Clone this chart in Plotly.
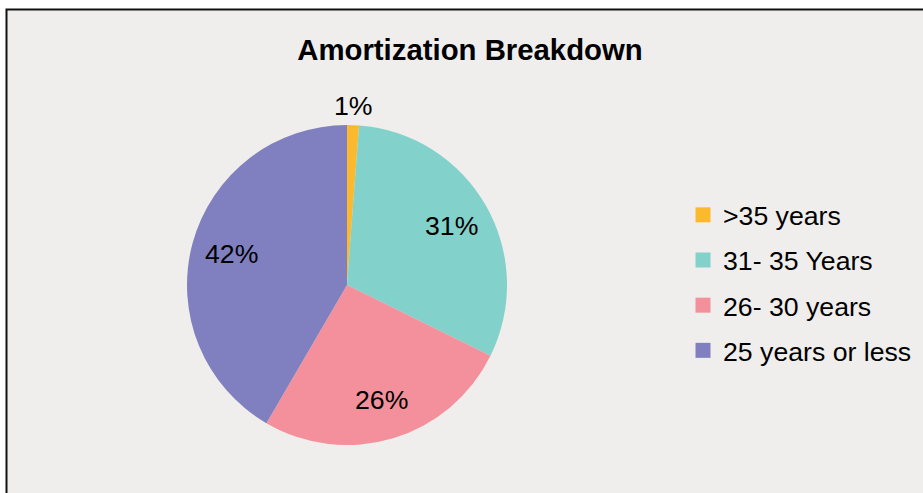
import math
import plotly.graph_objects as go

categories = [">35 years", "31- 35 Years", "26- 30 years", "25 years or less"]
values = [1.2, 31.1, 26.1, 41.6]
colors = ["#FBBA2E", "#82D1CA", "#F4909B", "#8080C0"]
label_outside = [True, False, False, False]

W, H = 923, 493
FONT = "Arial, Liberation Sans, sans-serif"

# pie geometry (pixels)
CX, CY, R = 347, 285, 160

fig = go.Figure()

fig.add_trace(go.Pie(
    labels=categories,
    values=values,
    sort=False,
    direction="clockwise",
    rotation=0,
    marker=dict(colors=colors, line=dict(width=0)),
    textinfo="none",
    showlegend=False,
    hoverinfo="label+percent",
    domain=dict(x=[(CX - R) / W, (CX + R) / W], y=[(H - CY - R) / H, (H - CY + R) / H]),
))

# percentage labels placed along each slice's mid-angle
total = sum(values)
cum = 0.0
annotations = []
for v, outside in zip(values, label_outside):
    mid = (cum + v / 2) / total * 2 * math.pi
    cum += v
    r = R * (1.12 if outside else 0.75)
    px = CX + r * math.sin(mid)
    py = CY - r * math.cos(mid)
    annotations.append(dict(
        x=px / W, y=1 - py / H, xref="paper", yref="paper",
        text=f"{round(v / total * 100)}%", showarrow=False,
        xanchor="center", yanchor="middle",
        font=dict(family=FONT, size=26.67, color="black"),
    ))

for i, (cat, col) in enumerate(zip(categories, colors)):
    fig.add_trace(go.Scatter(
        x=[None], y=[None], mode="markers", name=cat,
        marker=dict(symbol="square", size=15, color=col),
        legendgroup=f"g{i}", showlegend=True, hoverinfo="skip",
    ))

fig.update_layout(
    width=W, height=H,
    margin=dict(l=0, r=0, t=0, b=0),
    paper_bgcolor="white",
    plot_bgcolor="rgba(0,0,0,0)",
    xaxis=dict(visible=False),
    yaxis=dict(visible=False),
    title=dict(text="<b>Amortization Breakdown</b>", x=470 / W, xanchor="center",
               y=1 - 50 / H, yanchor="middle",
               font=dict(family=FONT, size=29.33, color="black")),
    legend=dict(x=683 / W, xanchor="left", y=1 - 191 / H, yanchor="top",
                font=dict(family=FONT, size=26.67, color="black"),
                bgcolor="rgba(0,0,0,0)", tracegroupgap=7.5, itemwidth=30),
    annotations=annotations,
    shapes=[dict(type="rect", xref="paper", yref="paper", layer="below",
                 x0=6.5 / W, x1=1.02, y0=-0.02, y1=1 - 9.5 / H,
                 fillcolor="#EFEEEC", line=dict(color="#111111", width=2))],
)

fig.write_html("out.html", config={"displayModeBar": False},
               post_script="document.body.style.margin='0';")
